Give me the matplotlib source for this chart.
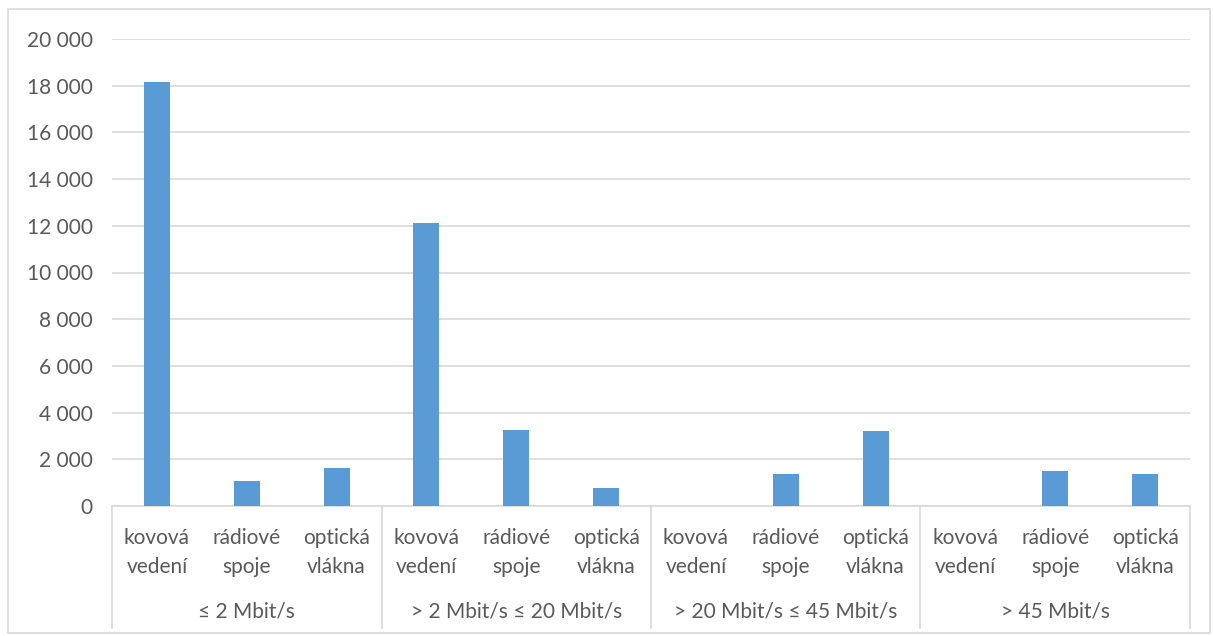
import matplotlib.pyplot as plt
from matplotlib.patches import Rectangle
from matplotlib.ticker import FuncFormatter, MultipleLocator

plt.rcParams['font.family'] = ['Lato', 'DejaVu Sans']

# Data
groups = ["≤ 2 Mbit/s", "> 2 Mbit/s ≤ 20 Mbit/s", "> 20 Mbit/s ≤ 45 Mbit/s", "> 45 Mbit/s"]
media = ["kovová\nvedení", "rádiové\nspoje", "optická\nvlákna"]
values = [
    18170, 1050, 1640,
    12120, 3260, 790,
    0, 1380, 3230,
    0, 1480, 1380,
]

BAR_COLOR = "#5B9BD5"
GRID = "#D9D9D9"
TEXT = "#595959"
FS = 15

fig = plt.figure(figsize=(12.14, 6.36), dpi=100)
ax = fig.add_axes([112 / 1214, 1 - 506 / 636, 1078 / 1214, 467 / 636])

x = list(range(len(values)))
ax.bar(x, values, width=0.29, color=BAR_COLOR, zorder=3)

ax.set_xlim(-0.5, len(values) - 0.5)
ax.set_ylim(0, 20000)
ax.yaxis.set_major_locator(MultipleLocator(2000))
ax.yaxis.set_major_formatter(FuncFormatter(lambda v, p: f"{int(v):,}".replace(",", " ")))
ax.grid(axis="y", color=GRID, linewidth=1.2, zorder=0)
for s in ["top", "right", "left"]:
    ax.spines[s].set_visible(False)
ax.spines["bottom"].set_color(GRID)
ax.spines["bottom"].set_linewidth(1.2)
ax.tick_params(axis="y", length=0, labelsize=FS, colors=TEXT, pad=14)
ax.tick_params(axis="x", length=0, labelsize=FS, colors=TEXT, pad=16)

ax.set_xticks(x)
ax.set_xticklabels(media * len(groups), linespacing=1.55)

trans = ax.get_xaxis_transform()
for i in range(len(groups) + 1):
    xs = i * 3 - 0.5
    ax.plot([xs, xs], [0, -122 / 467], transform=trans, color=GRID,
            linewidth=1.2, clip_on=False)
for i, g in enumerate(groups):
    ax.text(i * 3 + 1, -106 / 467, g, transform=trans, ha="center", va="center",
            fontsize=FS, color=TEXT)

fig.patches.append(Rectangle((8 / 1214, 3 / 636), 1202 / 1214, 624 / 636,
                             transform=fig.transFigure, fill=False,
                             edgecolor=GRID, linewidth=1.2))

fig.savefig("out.png", dpi=100)
